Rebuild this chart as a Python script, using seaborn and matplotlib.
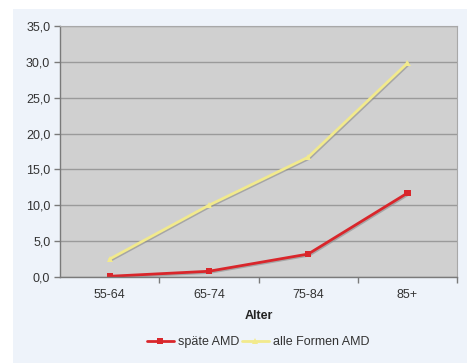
import matplotlib
matplotlib.use("Agg")
import matplotlib.pyplot as plt
import matplotlib.patheffects as pe
from matplotlib.lines import Line2D
from matplotlib.ticker import FuncFormatter, MultipleLocator
import pandas as pd
import seaborn as sns

# Prevalence of AMD by age group (percent)
age_groups = ["55-64", "65-74", "75-84", "85+"]
late_amd = [0.1, 0.8, 3.2, 11.7]
all_amd = [2.5, 10.0, 16.7, 29.8]
series_names = ["späte AMD", "alle Formen AMD"]

df = pd.DataFrame({
    "Alter": age_groups * 2,
    "Wert": late_amd + all_amd,
    "Serie": [series_names[0]] * len(age_groups) + [series_names[1]] * len(age_groups),
})
df["pos"] = list(range(len(age_groups))) * 2

sns.set_style("white")
plt.rcParams["font.family"] = ["Liberation Sans", "DejaVu Sans"]

FS = 9

fig = plt.figure(figsize=(4.67, 3.63), dpi=100)
fig.patch.set_facecolor("white")
# light blue card behind the chart
card = fig.add_axes([13 / 467, 0, 1 - 13 / 467, 1 - 9 / 363], zorder=-5)
card.set_facecolor("#eef3fa")
card.set_xticks([])
card.set_yticks([])
for s in card.spines.values():
    s.set_visible(False)

ax = fig.add_axes([60 / 467, 1 - 277 / 363, 397 / 467, 251 / 363], zorder=1)
ax.set_facecolor("#d0d0d0")

palette = {series_names[0]: "#d9262b", series_names[1]: "#f2ea8c"}
markers = {series_names[0]: "s", series_names[1]: "^"}
shadow = [pe.SimpleLineShadow(offset=(0.8, -0.8), shadow_color="#8a8a8a", alpha=0.6), pe.Normal()]

sns.lineplot(data=df, x="pos", y="Wert", hue="Serie", style="Serie",
             palette=palette, markers=markers, dashes=False,
             markersize=4.5, markeredgewidth=0, linewidth=2.0,
             ax=ax, legend=False)
for line in ax.lines:
    line.set_path_effects(shadow)

ax.set_xlim(-0.5, len(age_groups) - 0.5)
ax.set_ylim(0, 35)
ax.yaxis.set_major_locator(MultipleLocator(5))
ax.yaxis.set_major_formatter(FuncFormatter(lambda v, _: f"{v:.1f}".replace(".", ",")))
ax.set_xticks(range(len(age_groups)))
ax.set_xticklabels(age_groups)
ax.set_xticks([i + 0.5 for i in range(len(age_groups))], minor=True)

ax.grid(axis="y", color="#9a9a9a", linewidth=1.0)
ax.set_axisbelow(True)
for side in ["top", "right"]:
    ax.spines[side].set_color("#a8a8a8")
    ax.spines[side].set_linewidth(0.8)
for side in ["left", "bottom"]:
    ax.spines[side].set_color("#7a7a7a")
    ax.spines[side].set_linewidth(1.0)

ax.tick_params(axis="y", which="major", length=4, width=1, color="#7a7a7a",
               labelsize=FS, labelcolor="#333333", pad=3, left=True)
ax.tick_params(axis="x", which="major", length=0, labelsize=FS, labelcolor="#333333", pad=9)
ax.tick_params(axis="x", which="minor", length=4, width=1, color="#7a7a7a", bottom=True)

ax.set_xlabel("Alter", fontsize=FS, fontweight="bold", color="#222222", labelpad=6)
ax.set_ylabel("")

handles = [Line2D([], [], color=palette[n], marker=markers[n], markersize=4.5,
                  markeredgewidth=0, linewidth=2.0) for n in series_names]
fig.legend(handles, series_names, loc="center", bbox_to_anchor=(258 / 467, 1 - 342 / 363),
           ncol=2, frameon=False, fontsize=FS, handlelength=2.2, handletextpad=0.3,
           columnspacing=0.2, labelcolor="#333333")

fig.savefig("out.png", dpi=100)
